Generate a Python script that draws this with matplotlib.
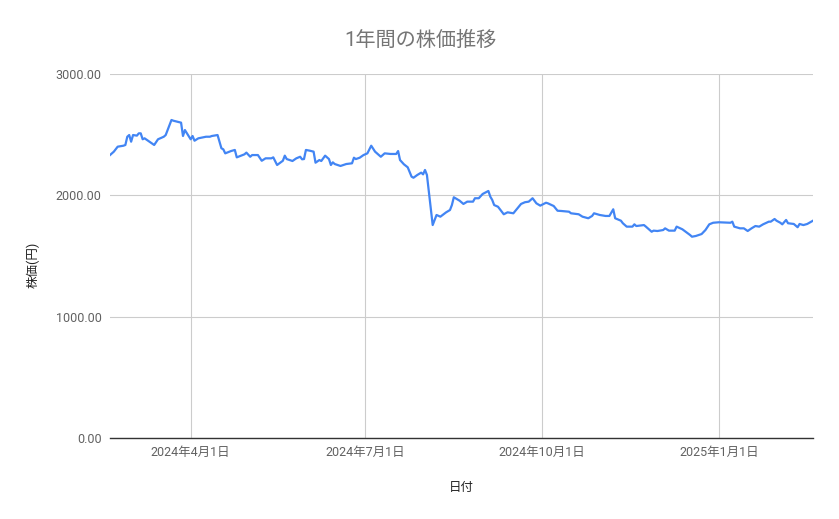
import matplotlib
matplotlib.use("Agg")
import matplotlib.pyplot as plt
import matplotlib.dates as mdates
import pandas as pd

plt.rcParams['font.family'] = ['Roboto', 'Noto Sans CJK JP', 'DejaVu Sans']

title = "1年間の株価推移"
x_label = "日付"
y_label = "株価(円)"

dates = [
    "2024-02-19", "2024-02-21", "2024-02-23", "2024-02-26", "2024-02-27", "2024-02-28", "2024-02-29",
    "2024-03-01", "2024-03-02", "2024-03-04", "2024-03-05", "2024-03-06", "2024-03-07", "2024-03-08",
    "2024-03-10", "2024-03-13", "2024-03-15", "2024-03-18", "2024-03-19", "2024-03-22", "2024-03-23",
    "2024-03-27", "2024-03-28", "2024-03-29", "2024-04-01", "2024-04-02", "2024-04-03", "2024-04-05",
    "2024-04-09", "2024-04-11", "2024-04-12", "2024-04-15", "2024-04-17", "2024-04-18", "2024-04-19",
    "2024-04-22", "2024-04-24", "2024-04-25", "2024-04-29", "2024-04-30", "2024-05-02", "2024-05-03",
    "2024-05-06", "2024-05-08", "2024-05-10", "2024-05-13", "2024-05-14", "2024-05-16", "2024-05-19",
    "2024-05-20", "2024-05-21", "2024-05-24", "2024-05-26", "2024-05-28", "2024-05-29", "2024-05-30",
    "2024-05-31", "2024-06-02", "2024-06-04", "2024-06-05", "2024-06-07", "2024-06-08", "2024-06-10",
    "2024-06-12", "2024-06-13", "2024-06-14", "2024-06-15", "2024-06-18", "2024-06-21", "2024-06-24",
    "2024-06-25", "2024-06-26", "2024-06-28", "2024-06-30", "2024-07-02", "2024-07-04", "2024-07-06",
    "2024-07-09", "2024-07-11", "2024-07-14", "2024-07-17", "2024-07-18", "2024-07-19", "2024-07-21",
    "2024-07-23", "2024-07-25", "2024-07-26", "2024-07-28", "2024-07-30", "2024-07-31", "2024-08-01",
    "2024-08-02", "2024-08-05", "2024-08-07", "2024-08-09", "2024-08-12", "2024-08-14", "2024-08-15",
    "2024-08-16", "2024-08-19", "2024-08-21", "2024-08-23", "2024-08-26", "2024-08-27", "2024-08-29",
    "2024-08-31", "2024-09-03", "2024-09-04", "2024-09-05", "2024-09-06", "2024-09-08", "2024-09-10",
    "2024-09-11", "2024-09-13", "2024-09-16", "2024-09-20", "2024-09-22", "2024-09-24", "2024-09-26",
    "2024-09-28", "2024-09-30", "2024-10-03", "2024-10-04", "2024-10-07", "2024-10-09", "2024-10-11",
    "2024-10-15", "2024-10-16", "2024-10-20", "2024-10-22", "2024-10-25", "2024-10-27", "2024-10-28",
    "2024-10-31", "2024-11-03", "2024-11-05", "2024-11-07", "2024-11-08", "2024-11-11", "2024-11-12",
    "2024-11-14", "2024-11-17", "2024-11-18", "2024-11-19", "2024-11-23", "2024-11-24", "2024-11-27",
    "2024-11-28", "2024-11-30", "2024-12-03", "2024-12-04", "2024-12-06", "2024-12-09", "2024-12-10",
    "2024-12-13", "2024-12-17", "2024-12-18", "2024-12-20", "2024-12-23", "2024-12-25", "2024-12-27",
    "2024-12-29", "2025-01-01", "2025-01-07", "2025-01-08", "2025-01-09", "2025-01-12", "2025-01-14",
    "2025-01-16", "2025-01-18", "2025-01-20", "2025-01-22", "2025-01-24", "2025-01-27", "2025-01-28",
    "2025-01-30", "2025-01-31", "2025-02-02", "2025-02-03", "2025-02-05", "2025-02-06", "2025-02-09",
    "2025-02-11", "2025-02-12", "2025-02-14", "2025-02-16", "2025-02-19",
]

prices = [
    2332, 2360, 2401, 2409, 2415, 2483, 2497,
    2442, 2497, 2492, 2511, 2511, 2462, 2470,
    2448, 2415, 2462, 2483, 2497, 2621, 2615,
    2599, 2489, 2538, 2462, 2489, 2450, 2470,
    2483, 2483, 2489, 2497, 2388, 2379, 2346,
    2365, 2374, 2313, 2338, 2352, 2318, 2332,
    2332, 2285, 2305, 2305, 2313, 2250, 2285,
    2327, 2299, 2283, 2305, 2318, 2297, 2299,
    2374, 2368, 2360, 2269, 2291, 2283, 2327,
    2299, 2250, 2272, 2258, 2242, 2258, 2264,
    2310, 2299, 2310, 2332, 2346, 2409, 2360,
    2318, 2346, 2341, 2341, 2365, 2291, 2256,
    2231, 2154, 2145, 2168, 2187, 2173, 2209,
    2168, 1755, 1838, 1824, 1860, 1879, 1920,
    1984, 1956, 1929, 1948, 1948, 1976, 1976,
    2011, 2036, 1989, 1962, 1920, 1906, 1865,
    1844, 1860, 1852, 1929, 1943, 1948, 1976,
    1934, 1915, 1939, 1934, 1912, 1873, 1871,
    1865, 1852, 1844, 1824, 1811, 1830, 1852,
    1838, 1830, 1830, 1885, 1811, 1791, 1770,
    1742, 1742, 1761, 1747, 1755, 1742, 1700,
    1709, 1706, 1714, 1728, 1709, 1709, 1742,
    1720, 1673, 1659, 1665, 1681, 1714, 1761,
    1774, 1778, 1774, 1783, 1742, 1728, 1728,
    1706, 1728, 1747, 1742, 1761, 1783, 1783,
    1805, 1791, 1774, 1761, 1797, 1770, 1764,
    1737, 1764, 1755, 1764, 1791,
]

y_ticks = [0, 1000, 2000, 3000]
x_tick_dates = ["2024-04-01", "2024-07-01", "2024-10-01", "2025-01-01"]
x_tick_labels = ["2024年4月1日", "2024年7月1日", "2024年10月1日", "2025年1月1日"]

d = pd.to_datetime(dates)

fig = plt.figure(figsize=(8.39, 5.19), dpi=100)
ax = fig.add_axes([110/839, 81/519, 703/839, 364/519])

ax.plot(d, prices, color="#4285F4", linewidth=1.6, solid_joinstyle="round")

ax.set_xlim(d[0], d[-1])
ax.set_ylim(0, 3000)
ax.set_yticks(y_ticks)
ax.set_yticklabels([f"{v:.2f}" for v in y_ticks])
ax.set_xticks(pd.to_datetime(x_tick_dates))
ax.set_xticklabels(x_tick_labels)

ax.grid(True, color="#cccccc", linewidth=0.8)
ax.set_axisbelow(True)
for s in ["top", "right", "left"]:
    ax.spines[s].set_visible(False)
ax.spines["bottom"].set_color("#333333")
ax.spines["bottom"].set_linewidth(1.0)
ax.spines["bottom"].set_zorder(3)

ax.tick_params(axis="both", length=0, labelsize=9, labelcolor="#616161")
ax.tick_params(axis="y", pad=6)
ax.tick_params(axis="x", pad=6)

fig.text(420/839, 1 - 40/519, title, ha="center", va="center", fontsize=14.5, color="#757575")
fig.text(461/839, 1 - 487/519, x_label, ha="center", va="center", fontsize=9, color="#222222")
fig.text(33/839, 1 - 265/519, y_label, ha="center", va="center", rotation=90, fontsize=9, color="#222222")

fig.savefig("out.png", dpi=100)
